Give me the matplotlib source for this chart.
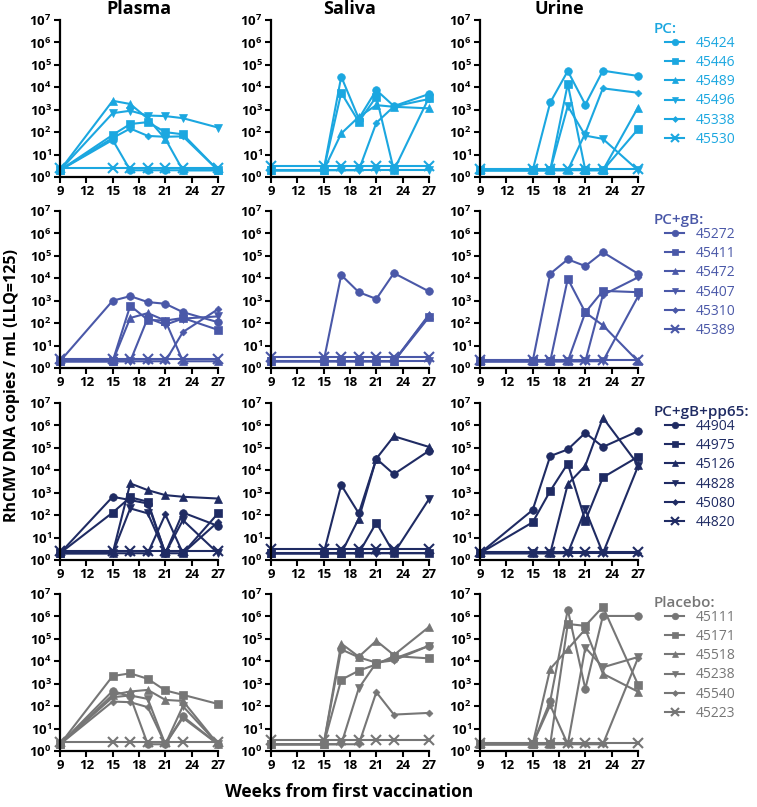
import matplotlib.pyplot as plt

plt.rcParams['font.family'] = ['Open Sans', 'DejaVu Sans']
plt.rcParams['mathtext.fontset'] = 'custom'
plt.rcParams['mathtext.rm'] = 'Open Sans:bold'
plt.rcParams['mathtext.default'] = 'rm'

# weeks from first vaccination
weeks = [9, 15, 17, 19, 21, 23, 27]
tissues = ['Plasma', 'Saliva', 'Urine']
groups = ['PC:', 'PC+gB:', 'PC+gB+pp65:', 'Placebo:']
group_colors = ['#1ba7e0', '#4a58a8', '#1f2b63', '#767676']

pc_ids = ['45424', '45446', '45489', '45496', '45338', '45530']
pcgb_ids = ['45272', '45411', '45472', '45407', '45310', '45389']
pp65_ids = ['44904', '44975', '45126', '44828', '45080', '44820']
placebo_ids = ['45111', '45171', '45518', '45238', '45540', '45223']

# values per animal (copies/mL), order matches the id lists
pc_plasma = [[2, 45, 2, 2, 2, 2, 2],
             [2, 75, 230, 280, 100, 80, 2],
             [2, 2500, 1800, 400, 50, 2, 2],
             [2, 700, 900, 550, 520, 420, 160],
             [2, 55, 145, 68, 62, 65, 2],
             [2.5, 2.5, 2.5, 2.5, 2.5, 2.5, 2.5]]
pc_saliva = [[2, 2, 30000, 400, 7500, 1450, 5000],
             [2, 2, 5700, 290, 3800, 2, 3500],
             [2, 2, 87, 480, 1600, 1350, 1150],
             [2, 2, 2, 2, 2, 2, 2],
             [2, 2, 2, 2, 260, 1400, 3000],
             [3, 3, 3, 3, 3, 3, 3]]
pc_urine = [[2, 2, 2100, 53000, 1700, 55000, 32000],
            [2, 2, 2, 14000, 2, 2, 135],
            [2, 2, 2, 2, 2, 2, 1250],
            [2, 2, 2, 1450, 70, 50, 2],
            [2, 2, 2, 2, 90, 9000, 5700],
            [2.2, 2.2, 2.2, 2.2, 2.2, 2.2, 2.2]]

pcgb_plasma = [[2, 1000, 1600, 870, 730, 310, 110],
               [2, 2, 600, 140, 130, 170, 50],
               [2, 2, 170, 280, 130, 2, 2],
               [2, 2, 2, 170, 85, 160, 200],
               [2, 2, 2, 2, 2, 40, 420],
               [2.5, 2.5, 2.5, 2.5, 2.5, 2.5, 2.5]]
pcgb_saliva = [[2, 2, 14000, 2400, 1200, 17000, 2600],
               [2, 2, 2, 2, 2, 2, 185],
               [2, 2, 2, 2, 2, 2, 240],
               [2, 2, 2, 2, 2, 2, 2],
               [2, 2, 2, 2, 2, 2, 220],
               [3, 3, 3, 3, 3, 3, 3]]
pcgb_urine = [[2, 2, 16000, 70000, 35000, 145000, 16000],
              [2, 2, 2, 9500, 300, 2750, 2400],
              [2, 2, 2, 2, 300, 80, 2],
              [2, 2, 2, 2, 2, 2, 1550],
              [2, 2, 2, 2, 2, 1800, 11000],
              [2.2, 2.2, 2.2, 2.2, 2.2, 2.2, 2.2]]

pp65_plasma = [[2, 660, 470, 330, 2, 130, 33],
               [2, 130, 620, 400, 2, 2, 120],
               [2, 2, 2600, 1300, 780, 660, 550],
               [2, 2, 200, 120, 2, 60, 2],
               [2, 2, 2, 2, 107, 2, 50],
               [2.5, 2.5, 2.5, 2.5, 2.5, 2.5, 2.5]]
pp65_saliva = [[2, 2, 2200, 120, 33000, 6700, 74000],
               [2, 2, 2, 2, 46, 2, 2],
               [2, 2, 2, 70, 33000, 330000, 110000],
               [2, 2, 2, 2, 2, 2, 520],
               [2, 2, 2, 2, 2, 2, 2],
               [3, 3, 3, 3, 3, 3, 3]]
pp65_urine = [[2, 170, 43000, 85000, 470000, 110000, 550000],
              [2, 48, 1200, 20000, 56, 4800, 40000],
              [2, 2, 2, 2400, 16000, 2200000, 18000],
              [2, 2, 2, 2, 180, 2, 15000],
              [2, 2, 2, 2, 2, 2, 2],
              [2.2, 2.2, 2.2, 2.2, 2.2, 2.2, 2.2]]

placebo_plasma = [[2, 480, 270, 2, 2, 35, 2],
                  [2, 2200, 2900, 1650, 500, 320, 125],
                  [2, 320, 450, 530, 190, 170, 2],
                  [2, 250, 300, 210, 2, 100, 2],
                  [2, 160, 150, 90, 2, 30, 2],
                  [2.5, 2.5, 2.5, 2.5, 2.5, 2.5, 2.5]]
placebo_saliva = [[2, 2, 34000, 15000, 8700, 13000, 49000],
                  [2, 2, 1500, 3800, 7300, 17000, 13500],
                  [2, 2, 62000, 16000, 82000, 19000, 340000],
                  [2, 2, 2, 630, 8700, 11000, 49000],
                  [2, 2, 2, 2, 420, 42, 50],
                  [3, 3, 3, 3, 3, 3, 3]]
placebo_urine = [[2, 2, 170, 2000000, 590, 1050000, 1050000],
                 [2, 2, 2, 460000, 380000, 2700000, 920],
                 [2, 2, 4600, 35000, 270000, 2800, 440],
                 [2, 2, 2, 2, 41000, 5400, 15500],
                 [2, 2, 110, 2, 2, 2, 14000],
                 [2.2, 2.2, 2.2, 2.2, 2.2, 2.2, 2.2]]

panels = [[pc_plasma, pc_saliva, pc_urine],
          [pcgb_plasma, pcgb_saliva, pcgb_urine],
          [pp65_plasma, pp65_saliva, pp65_urine],
          [placebo_plasma, placebo_saliva, placebo_urine]]
group_ids = [pc_ids, pcgb_ids, pp65_ids, placebo_ids]

markers = ['o', 's', '^', 'v', 'D', 'x']
msizes = [5.5, 5.5, 5.5, 5.5, 3.5, 7]

W, H = 757, 807
fig = plt.figure(figsize=(W / 100, H / 100), dpi=100)

col_x = [60, 271, 480]
row_top = [20, 211, 403, 594]
pw, ph = 158, 157

for r in range(4):
    color = group_colors[r]
    for c in range(3):
        ax = fig.add_axes([col_x[c] / W, 1 - (row_top[r] + ph) / H, pw / W, ph / H])
        for k, vals in enumerate(panels[r][c]):
            ax.plot(weeks, vals, color=color, lw=1.5, marker=markers[k],
                    ms=msizes[k], mew=1.5 if markers[k] == 'x' else 0.5,
                    clip_on=False, label=group_ids[r][k])
        ax.set_yscale('log')
        ax.set_ylim(1, 1e7)
        ax.set_xlim(9, 27)
        ax.set_yticks([10 ** i for i in range(8)])
        ax.set_yticklabels([f'$10^{{{i}}}$' for i in range(8)])
        ax.minorticks_off()
        ax.set_xticks(range(9, 28, 3))
        ax.tick_params(axis='both', labelsize=9.5, width=1.5, length=4,
                       direction='out', pad=2)
        for lab in ax.get_xticklabels():
            lab.set_fontweight('bold')
        for s in ['top', 'right']:
            ax.spines[s].set_visible(False)
        for s in ['left', 'bottom']:
            ax.spines[s].set_linewidth(1.6)
        if r == 0:
            ax.set_title(tissues[c], fontsize=13, fontweight='bold', pad=4)
        if c == 2:
            fig.text(654 / W, 1 - (row_top[r] + 9) / H, groups[r], color=color,
                     fontsize=11, fontweight='semibold', ha='left', va='center')
            leg = ax.legend(loc='upper left', bbox_to_anchor=(665 / W, 1 - (row_top[r] + 16) / H),
                            bbox_transform=fig.transFigure, frameon=False,
                            fontsize=10, handlelength=1.4, handletextpad=0.8,
                            labelspacing=0.3, borderpad=0, borderaxespad=0,
                            markerscale=0.85)
            for t in leg.get_texts():
                t.set_color(color)

fig.text(12 / W, 1 - 386 / H, 'RhCMV DNA copies / mL (LLQ=125)', rotation=90,
         ha='center', va='center', fontsize=11.5, fontweight='bold')
fig.text(349 / W, 1 - 792 / H, 'Weeks from first vaccination', ha='center',
         va='center', fontsize=12.5, fontweight='bold')

fig.savefig('out.png', dpi=100)
